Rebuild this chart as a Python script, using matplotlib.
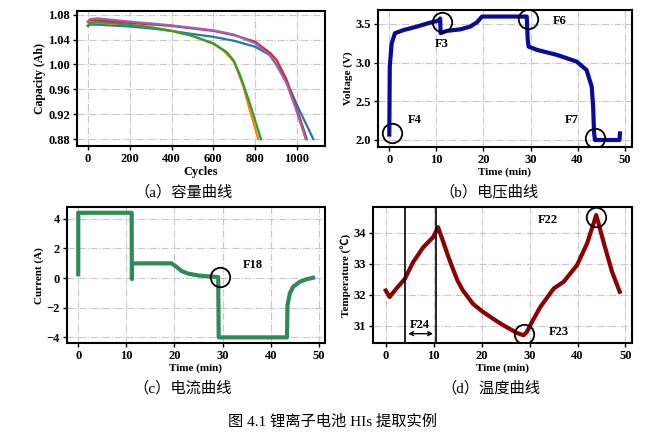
import matplotlib.pyplot as plt
import numpy as np

plt.rcParams['font.family'] = ['Liberation Serif', 'Noto Sans CJK SC']
plt.rcParams['mathtext.fontset'] = 'stix'

# (a) capacity vs cycles
cyc_blue = [0, 10, 50, 100, 200, 300, 400, 500, 600, 700, 800, 870, 920, 970, 1015, 1050, 1078]
cap_blue = [1.062, 1.064, 1.064, 1.063, 1.061, 1.058, 1.054, 1.049, 1.0445, 1.038, 1.0285, 1.015, 0.991, 0.958, 0.924, 0.900, 0.880]
cyc_orange = [0, 10, 50, 100, 200, 300, 400, 500, 600, 650, 700, 744, 775, 815]
cap_orange = [1.062, 1.066, 1.067, 1.066, 1.064, 1.060, 1.054, 1.046, 1.033, 1.022, 1.004, 0.964, 0.926, 0.880]
cyc_green = [0, 10, 50, 100, 200, 300, 400, 500, 600, 664, 696, 728, 775, 828]
cap_green = [1.062, 1.067, 1.068, 1.067, 1.0635, 1.060, 1.054, 1.046, 1.034, 1.020, 1.007, 0.983, 0.937, 0.880]
cyc_red = [0, 10, 50, 200, 400, 600, 700, 800, 870, 903, 951, 999, 1047]
cap_red = [1.069, 1.071, 1.071, 1.067, 1.062, 1.054, 1.047, 1.0366, 1.019, 1.007, 0.975, 0.929, 0.880]
cyc_purple = [0, 10, 50, 200, 400, 600, 700, 800, 870, 900, 950, 995, 1042]
cap_purple = [1.068, 1.073, 1.074, 1.069, 1.063, 1.055, 1.048, 1.034, 1.015, 1.000, 0.970, 0.928, 0.880]

# (b) voltage
t_v = [0, 0.1, 0.5, 1.2, 3.0, 5.9, 8.7, 10.5, 10.8, 10.9, 12.2, 15.1, 17.2, 18.6, 19.7, 29.2, 29.4, 29.6, 31.4,
       35.6, 39.8, 41.9, 43.0, 43.3, 43.5, 43.7, 48.9, 49.0]
volt = [2.07, 2.95, 3.25, 3.38, 3.42, 3.466, 3.517, 3.543, 3.57, 3.38, 3.41, 3.43, 3.466, 3.52, 3.595, 3.595, 3.3,
        3.207, 3.164, 3.10, 3.013, 2.905, 2.69, 2.43, 2.09, 2.0, 2.0, 2.085]

# (c) current
t_i = [0, 0, 11.1, 11.15, 11.2, 19.4, 20.4, 21.5, 22.9, 25.3, 28.0, 29.1, 29.2, 43.4, 43.5, 44.0, 44.7, 46.1, 47.4, 48.8]
curr = [0.25, 4.4, 4.4, -0.07, 0.99, 0.99, 0.76, 0.47, 0.29, 0.16, 0.09, 0.07, -4.0, -4.0, -1.82, -1.03, -0.58, -0.25,
        -0.09, 0.02]

# (d) temperature
t_T = [0, 0.8, 2.2, 4.0, 5.7, 7.8, 9.9, 10.9, 11.9, 13.0, 14.0, 15.0, 16.1, 18.2, 20.3, 22.4, 24.2, 27.4, 28.75,
       29.4, 30.5, 32.2, 35.0, 37.1, 39.9, 42.0, 43.9, 45.5, 47.2, 48.8]
temp = [32.14, 31.93, 32.2, 32.52, 33.05, 33.53, 33.86, 34.18, 33.75, 33.25, 32.84, 32.45, 32.14, 31.71, 31.45,
        31.23, 31.05, 30.77, 30.7, 30.8, 31.13, 31.6, 32.2, 32.42, 32.96, 33.66, 34.57, 33.66, 32.74, 32.1]


def style(ax):
    ax.grid(True, linestyle='-.', color='#c8c8c8', linewidth=0.8)
    for s in ax.spines.values():
        s.set_linewidth(1.5)
    ax.tick_params(labelsize=9, length=3, width=1, pad=2)
    for lab in ax.get_xticklabels() + ax.get_yticklabels():
        lab.set_fontweight('bold')


def circ(ax, x, y):
    ax.plot(x, y, 'o', ms=14, mfc='none', mec='black', mew=1.3)


fig = plt.figure(figsize=(6.56, 4.38), dpi=100)

# (a)
ax1 = fig.add_axes([0.1174, 0.6667, 0.378, 0.3082])
ax1.plot(cyc_blue, cap_blue, color='C0', lw=1.6)
ax1.plot(cyc_orange, cap_orange, color='C1', lw=1.6)
ax1.plot(cyc_green, cap_green, color='C2', lw=1.6)
ax1.plot(cyc_red, cap_red, color='C3', lw=1.6)
ax1.plot(cyc_purple, cap_purple, color='C4', lw=1.6)
ax1.set_xlim(-52, 1134)
ax1.set_ylim(0.869, 1.086)
ax1.set_yticks([0.88, 0.92, 0.96, 1.00, 1.04, 1.08])
ax1.set_xticks([0, 200, 400, 600, 800, 1000])
ax1.set_xlabel('Cycles', fontsize=9, fontweight='bold', labelpad=1)
ax1.set_ylabel('Capacity (Ah)', fontsize=8.5, fontweight='bold', labelpad=2)
style(ax1)

# (b)
ax2 = fig.add_axes([0.5758, 0.665, 0.3872, 0.3122])
ax2.plot(t_v, volt, color='#0a0a9a', lw=3)
circ(ax2, 0.5, 2.095)
circ(ax2, 11.25, 3.53)
circ(ax2, 29.4, 3.56)
circ(ax2, 43.8, 2.03)
for txt, x, y in [('F4', 5.5, 2.26), ('F3', 11.2, 3.24), ('F6', 36.2, 3.54), ('F7', 38.7, 2.26)]:
    ax2.text(x, y, txt, fontsize=9, fontweight='bold', ha='center', va='center')
ax2.set_xlim(-2.46, 51.5)
ax2.set_ylim(1.913, 3.68)
ax2.set_xticks([0, 10, 20, 30, 40, 50])
ax2.set_yticks([2.0, 2.5, 3.0, 3.5])
ax2.set_xlabel('Time (min)', fontsize=8, fontweight='bold', labelpad=1)
ax2.set_ylabel('Voltage (V)', fontsize=8, fontweight='bold', labelpad=2)
style(ax2)

# (c)
ax3 = fig.add_axes([0.1017, 0.2162, 0.3937, 0.3112])
ax3.plot(t_i, curr, color='#2e8b57', lw=3)
circ(ax3, 29.4, 0.09)
ax3.text(36.2, 0.87, 'F18', fontsize=9, fontweight='bold', ha='center', va='center')
ax3.set_xlim(-2.4, 51.3)
ax3.set_ylim(-4.4, 4.79)
ax3.set_xticks([0, 10, 20, 30, 40, 50])
ax3.set_yticks([-4, -2, 0, 2, 4])
ax3.set_xlabel('Time (min)', fontsize=8, fontweight='bold', labelpad=1)
ax3.set_ylabel('Current (A)', fontsize=8, fontweight='bold', labelpad=2)
style(ax3)

# (d)
ax4 = fig.add_axes([0.569, 0.2162, 0.394, 0.3105])
ax4.plot(t_T, temp, color='#8b0000', lw=3)
ax4.axvline(4.0, color='black', lw=1.2)
ax4.axvline(10.55, color='black', lw=1.2)
ax4.annotate('', xy=(4.1, 30.75), xytext=(10.45, 30.75),
             arrowprops=dict(arrowstyle='<->', color='black', lw=1, mutation_scale=7))
ax4.text(7.2, 31.04, 'F24', fontsize=9, fontweight='bold', ha='center', va='center')
circ(ax4, 43.9, 34.52)
circ(ax4, 28.9, 30.75)
ax4.text(33.8, 34.4, 'F22', fontsize=9, fontweight='bold', ha='center', va='center')
ax4.text(36.0, 30.8, 'F23', fontsize=9, fontweight='bold', ha='center', va='center')
ax4.set_xlim(-2.6, 51.3)
ax4.set_ylim(30.44, 34.82)
ax4.set_xticks([0, 10, 20, 30, 40, 50])
ax4.set_yticks([31, 32, 33, 34])
ax4.set_xlabel('Time (min)', fontsize=8, fontweight='bold', labelpad=1)
ax4.set_ylabel('Temperature (℃)', fontsize=8, fontweight='bold', labelpad=2)
style(ax4)

# captions
fig.text(183 / 656, 1 - 192 / 438, '（a）容量曲线', fontsize=11, ha='center', va='center')
fig.text(489 / 656, 1 - 192 / 438, '（b）电压曲线', fontsize=11, ha='center', va='center')
fig.text(183 / 656, 1 - 388 / 438, '（c）电流曲线', fontsize=11, ha='center', va='center')
fig.text(491 / 656, 1 - 388 / 438, '（d）温度曲线', fontsize=11, ha='center', va='center')
fig.text(333 / 656, 1 - 422 / 438, '图 4.1 锂离子电池 HIs 提取实例', fontsize=11, ha='center', va='center')

fig.savefig('out.png', dpi=100)
